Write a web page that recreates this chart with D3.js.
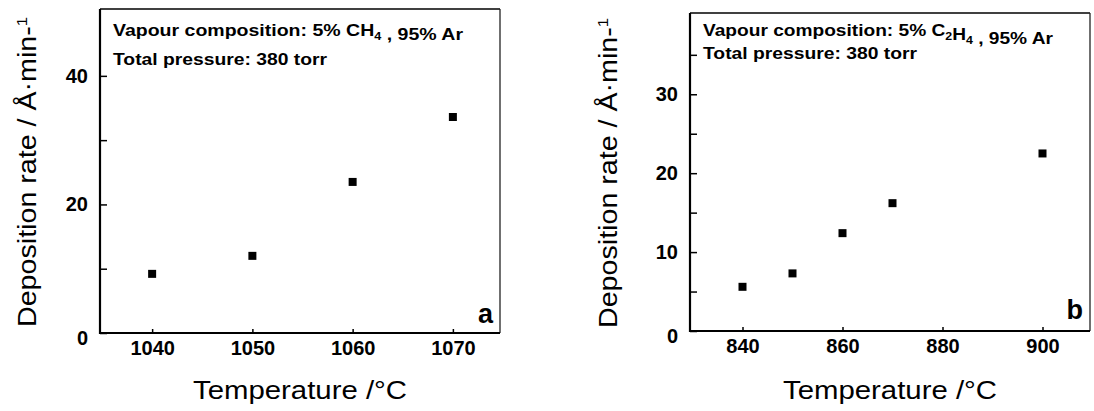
<!DOCTYPE html>
<html>
<head>
<meta charset="utf-8">
<script src="https://cdn.jsdelivr.net/npm/d3@7"></script>
<style>
  body { margin: 0; background: #fff; }
  svg { display: block; }
  text { font-family: "Liberation Sans", Arial, Helvetica, sans-serif; fill: #000; }
</style>
</head>
<body>
<svg id="chart" width="1094" height="411"></svg>
<script>
// panel a : 5% CH4
var tempA = [1040, 1050, 1060, 1070];
var rateA = [9.2, 12.0, 23.5, 33.6];
var xTicksA = [1040, 1050, 1060, 1070];
var yTicksA = [0, 10, 20, 30, 40];
var yLabelsA = [0, 20, 40];

// panel b : 5% C2H4
var tempB = [840, 850, 860, 870, 900];
var rateB = [5.6, 7.3, 12.4, 16.2, 22.5];
var xTicksB = [840, 860, 880, 900];
var yTicksB = [0, 5, 10, 15, 20, 25, 30, 35];
var yLabelsB = [0, 10, 20, 30];

var svg = d3.select("#chart");

function panel(p) {
  var g = svg.append("g");
  var x = d3.scaleLinear().domain(p.xdom).range([p.left, p.right]);
  var y = d3.scaleLinear().domain(p.ydom).range([p.bottom, p.top]);

  // frame, thin top/right
  g.append("line").attr("x1", p.left).attr("x2", p.right).attr("y1", p.top).attr("y2", p.top)
    .style("stroke", "#000").style("stroke-width", 1.5);
  g.append("line").attr("x1", p.right).attr("x2", p.right).attr("y1", p.top).attr("y2", p.bottom)
    .style("stroke", "#222").style("stroke-width", 1.3);

  var xa = g.append("g").attr("transform", "translate(0," + p.bottom + ")")
    .call(d3.axisBottom(x).tickValues(p.xticks).tickFormat(d3.format("d"))
      .tickSizeInner(-4).tickSizeOuter(0).tickPadding(8));
  var ya = g.append("g").attr("transform", "translate(" + p.left + ",0)")
    .call(d3.axisLeft(y).tickValues(p.yticks)
      .tickFormat(function(d){ return p.ylabels.indexOf(d) >= 0 ? d : ""; })
      .tickSizeInner(-7).tickSizeOuter(0).tickPadding(12));
  xa.select(".domain").remove();
  ya.select(".domain").remove();
  g.selectAll(".tick line").style("stroke", "#000").style("stroke-width", 1.5);
  g.selectAll(".tick text").style("font-size", "20px").style("font-weight", "bold")
    .style("font-family", "'Liberation Sans', Arial, sans-serif");
  ya.selectAll(".tick text").filter(function(d){ return d == 0; }).attr("dy", "0.55em");

  // heavy left and bottom axis lines
  g.append("line").attr("x1", p.left).attr("x2", p.left).attr("y1", p.top).attr("y2", p.bottom + 1)
    .style("stroke", "#000").style("stroke-width", 2.2);
  g.append("line").attr("x1", p.left - 1).attr("x2", p.right).attr("y1", p.bottom).attr("y2", p.bottom)
    .style("stroke", "#000").style("stroke-width", 2.2);

  // points
  g.selectAll("rect.pt").data(p.xs).enter().append("rect").attr("class", "pt")
    .attr("x", function(d){ return x(d) - 4; })
    .attr("y", function(d, i){ return y(p.ys[i]) - 4; })
    .attr("width", 8).attr("height", 8).style("fill", "#000");

  // note lines
  var t1 = g.append("text").attr("x", p.left + 13).attr("y", p.note1y)
    .style("font-size", "17px").style("font-weight", "bold")
    .attr("textLength", p.note1w).attr("lengthAdjust", "spacingAndGlyphs");
  t1.append("tspan").text("Vapour composition: 5% " + p.gas[0]);
  for (var i = 1; i < p.gas.length; i++) {
    var s = p.gas[i];
    if (s.sub) {
      t1.append("tspan").attr("dy", 4).style("font-size", "11px").text(s.t);
      t1.append("tspan").attr("dy", -4).text("");
    } else {
      t1.append("tspan").text(s.t);
    }
  }
  t1.append("tspan").text(" , 95% Ar");

  g.append("text").attr("x", p.left + 13).attr("y", p.note2y)
    .style("font-size", "17px").style("font-weight", "bold")
    .attr("textLength", 214).attr("lengthAdjust", "spacingAndGlyphs")
    .text("Total pressure: 380 torr");

  // panel letter
  g.append("text").attr("x", p.right - 7).attr("y", p.letterY).attr("text-anchor", "end")
    .style("font-size", "27px").style("font-weight", "bold").text(p.letter);

  // axis titles
  g.append("text").attr("x", (p.left + p.right) / 2).attr("y", 399).attr("text-anchor", "middle")
    .style("font-size", "25px").attr("textLength", 214).attr("lengthAdjust", "spacingAndGlyphs")
    .text("Temperature /\u00b0C");

  var yt = g.append("text")
    .attr("transform", "translate(" + p.ytitleX + "," + ((p.top + p.bottom) / 2 + 1) + ") rotate(-90)")
    .attr("text-anchor", "middle").style("font-size", "26px")
    .attr("textLength", 310).attr("lengthAdjust", "spacingAndGlyphs");
  yt.append("tspan").text("Deposition rate / \u00c5\u00b7min-");
  yt.append("tspan").attr("dy", -9).style("font-size", "15px").text("1");
}

panel({
  xdom: [1034.8, 1074.7], ydom: [0, 50.4],
  left: 100, right: 500, top: 9, bottom: 333,
  xs: tempA, ys: rateA, xticks: xTicksA, yticks: yTicksA, ylabels: yLabelsA,
  gas: ["CH", {t: "4", sub: true}], note1y: 36, note1w: 350, note2y: 65,
  letter: "a", letterY: 323, ytitleX: 36
});

panel({
  xdom: [829.5, 909.5], ydom: [0, 40.3],
  left: 690, right: 1090, top: 13, bottom: 331,
  xs: tempB, ys: rateB, xticks: xTicksB, yticks: yTicksB, ylabels: yLabelsB,
  gas: ["C", {t: "2", sub: true}, {t: "H"}, {t: "4", sub: true}], note1y: 36, note1w: 350, note2y: 59,
  letter: "b", letterY: 319, ytitleX: 617
});
</script>
</body>
</html>
